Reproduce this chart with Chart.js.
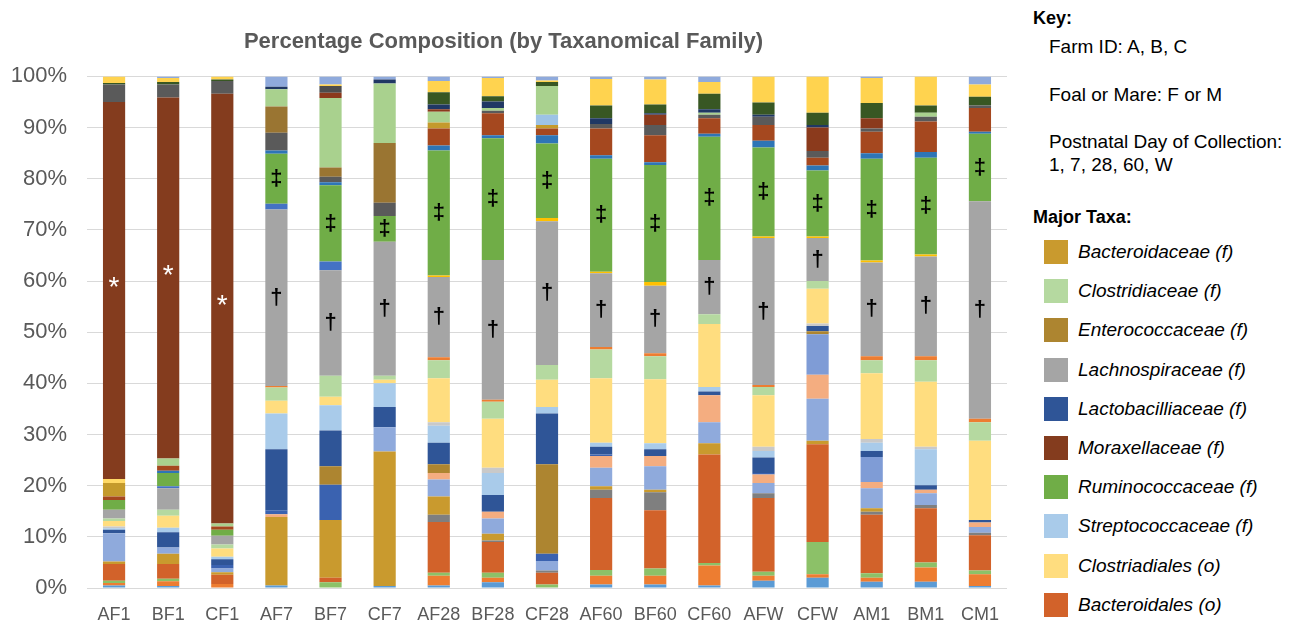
<!DOCTYPE html>
<html>
<head>
<meta charset="utf-8">
<title>Percentage Composition (by Taxanomical Family)</title>
<script src="https://cdn.jsdelivr.net/npm/chart.js@4.4.0/dist/chart.umd.min.js"></script>
<style>
    body { margin: 0; background: #fff; font-family: 'Liberation Sans', Arial, sans-serif; }
    #wrap { position: relative; width: 1308px; height: 624px; overflow: hidden; }
    #chartBox { position: absolute; left: 0; top: 0; width: 1016px; height: 624px; }
    .key { position: absolute; color: #000; white-space: nowrap; line-height: 24px; font-size: 19px; }
    .key.head { font-weight: bold; font-size: 18px; left: 1033px; }
    .key.item { left: 1049px; }
    .taxon { position: absolute; left: 1044px; height: 24px; width: 262px; }
    .taxon .sw { position: absolute; left: 0; top: 0; width: 24px; height: 24px; }
    .taxon .tx { position: absolute; left: 34px; top: 0; line-height: 24px; font-size: 19px; font-style: italic; color: #000; white-space: nowrap; }
</style>
</head>
<body>
<div id="wrap">
    <div id="chartBox"><canvas id="myChart"></canvas></div>
    <div class="key head" style="top:6px">Key:</div>
    <div class="key item" style="top:35px">Farm ID: A, B, C</div>
    <div class="key item" style="top:83px">Foal or Mare: F or M</div>
    <div class="key item" style="top:130px">Postnatal Day of Collection:</div>
    <div class="key item" style="top:153px">1, 7, 28, 60, W</div>
    <div class="key head" style="top:205px">Major Taxa:</div>
    <div id="taxaKey"></div>
</div>
<script>
var labels = ['AF1', 'BF1', 'CF1', 'AF7', 'BF7', 'CF7', 'AF28', 'BF28', 'CF28', 'AF60', 'BF60', 'CF60', 'AFW', 'CFW', 'AM1', 'BM1', 'CM1'];
var yTicks = [0, 10, 20, 30, 40, 50, 60, 70, 80, 90, 100];

// percentages per sample, stacked bottom -> top
var other01 = [0.5, 0.4, 0, 0.5, 0, 0.4, 0.5, 1.1, 0, 0.7, 0.7, 0.5, 1.4, 2.0, 1.2, 1.2, 0.4];
var other02 = [0.5, 0.9, 0.8, 0, 0, 0, 1.9, 0.9, 0, 1.7, 1.7, 3.9, 1.0, 0.7, 0.8, 2.8, 2.3];
var other03 = [0.4, 0.5, 0, 0, 1.1, 0, 0.6, 1.0, 0.7, 1.1, 1.4, 0.5, 0.8, 6.3, 0.9, 1.0, 0.7];
var bacteroidales = [3.3, 2.9, 1.8, 0, 0.9, 0, 9.9, 6.0, 2.3, 14.1, 11.4, 21.2, 14.4, 19.1, 11.4, 10.6, 6.9];
var other04 = [0, 0, 0, 0, 0, 0, 1.4, 0.3, 0.4, 1.6, 3.5, 0, 0.9, 0, 0.6, 0.6, 0.5];
var bacteroidaceae = [0.5, 2.0, 0.5, 13.4, 11.3, 26.3, 3.6, 1.3, 0, 0.7, 0.5, 2.2, 0, 0.7, 0.7, 0, 0];
var other05 = [5.5, 1.2, 0.7, 0, 0, 4.7, 3.3, 3.0, 1.9, 3.6, 4.6, 4.1, 2.0, 8.2, 3.9, 2.3, 1.1];
var other06 = [0, 0, 0, 0.5, 0, 0, 1.3, 1.3, 0, 2.3, 2.0, 5.3, 1.7, 4.7, 1.2, 0.7, 0.9];
var other07 = [0, 0, 0, 0, 0, 0, 0, 0, 0, 0, 0, 0, 0, 7.9, 4.9, 0, 0];
var other08 = [0, 0, 0.7, 0.8, 6.9, 0, 0, 0, 1.4, 0.3, 0, 0, 0.3, 0, 0, 0, 0];
var enterococcaceae = [0, 0, 0, 0, 3.6, 0, 1.7, 0, 17.5, 0, 0, 0, 0, 0.6, 0, 0, 0];
var lactobacilliaceae = [0.7, 3.0, 1.1, 11.9, 7.0, 4.0, 4.2, 3.3, 9.9, 1.5, 1.3, 0.7, 3.0, 1.0, 1.2, 0.9, 0.5];
var streptococcaceae = [0.3, 0.9, 0.5, 7.0, 4.9, 4.6, 3.3, 4.3, 1.3, 0.8, 1.2, 0.9, 1.3, 0, 1.6, 7.0, 0];
var other09 = [0.3, 0, 0, 0, 0, 0, 0.7, 1.0, 0, 0, 0, 0, 0.8, 0.5, 0.7, 0.5, 0];
var clostriadiales = [1.1, 2.3, 1.6, 2.5, 1.7, 0.7, 8.6, 9.6, 5.3, 12.6, 12.5, 12.3, 10.1, 6.8, 12.9, 12.7, 15.5];
var clostridiaceae = [0.5, 1.2, 0.8, 2.6, 4.1, 0.8, 3.5, 3.3, 2.9, 5.6, 4.5, 1.9, 1.6, 1.5, 2.5, 4.2, 3.6];
var other10 = [0, 0, 0, 0.3, 0, 0, 0.6, 0.4, 0, 0.5, 0.6, 0, 0.4, 0, 0.8, 0.8, 0.7];
var lachnospiraceae = [1.7, 4.2, 1.7, 34.5, 20.6, 26.2, 15.7, 27.3, 28.1, 14.4, 13.2, 10.6, 28.7, 8.4, 18.3, 19.5, 42.5];
var other11 = [0, 0, 0, 0, 0, 0, 0.3, 0, 0.6, 0.3, 0.7, 0, 0.3, 0.3, 0.4, 0.4, 0];
var other12 = [0, 0.4, 0, 1.1, 1.7, 0, 0, 0, 0, 0, 0, 0, 0, 0, 0, 0, 0];
var ruminococcaceae = [1.9, 2.6, 1.2, 9.8, 14.9, 5.0, 24.4, 23.8, 14.6, 22.1, 22.9, 24.1, 17.4, 12.9, 19.9, 18.9, 13.2];
var other13 = [0, 0.4, 0, 0.6, 0.6, 0, 1.0, 0.6, 1.6, 0.7, 0.5, 0.6, 1.3, 1.0, 1.1, 1.1, 0.4];
var other14 = [0.7, 1.0, 0.6, 0, 0, 0, 3.3, 4.3, 1.3, 5.2, 5.3, 3.0, 3.1, 1.5, 4.2, 6.0, 4.6];
var other15 = [2.6, 0, 0, 0, 0, 0, 1.2, 0, 0.7, 0, 0, 0, 0, 0, 0, 0, 0];
var other16 = [0.8, 0, 0, 0, 0, 0, 0, 0, 0, 0, 0, 0, 0, 0, 0, 0, 0];
var other17 = [0, 0, 0, 0, 0, 0, 0, 0, 2.0, 0, 0, 0, 0, 0, 0, 0, 0];
var other18 = [0, 1.4, 0.6, 0, 0, 0, 0, 0, 0, 0, 0, 0, 0, 0, 0, 0, 0];
var moraxellaceae = [73.7, 70.6, 84.0, 0, 0, 0, 0, 0, 0, 0, 0, 0, 0, 0, 0, 0, 0];
var other19 = [3.4, 2.5, 2.5, 3.5, 1.1, 2.6, 0, 0.5, 0, 0.9, 2.0, 0.7, 1.6, 1.3, 0.6, 0.9, 0.5];
var other20 = [0, 0, 0, 5.1, 1.8, 11.7, 0, 0, 0, 0, 0, 0, 0, 0, 0, 0, 0];
var other21 = [0, 0, 0, 3.4, 13.6, 11.6, 2.1, 0.5, 5.6, 0, 0, 0.4, 0, 0, 0, 0.8, 0];
var other22 = [0, 0, 0, 0, 1.0, 0, 0.5, 0, 0, 0, 2.0, 0, 0, 4.6, 2.0, 0, 0];
var other23 = [0, 0, 0, 0, 1.3, 0, 0, 0, 0, 0, 0, 0, 0, 0, 0, 0, 0];
var other24 = [0, 0, 0, 0.5, 0, 0.8, 0.9, 1.3, 0, 1.1, 0.3, 0.7, 0.4, 0.5, 0, 0, 0];
var other25 = [0.3, 0.5, 0.3, 0, 0, 0, 2.4, 1.0, 0.8, 2.5, 1.7, 3.0, 2.4, 2.4, 3.0, 1.4, 1.7];
var other26 = [1.3, 0.8, 0.6, 0, 0.3, 0, 2.2, 3.6, 0.3, 5.2, 4.9, 2.3, 5.1, 7.1, 4.9, 5.7, 2.4];
var other27 = [0, 0.3, 0, 2.0, 1.6, 0.6, 0.9, 0.3, 0.8, 0.5, 0.6, 1.1, 0, 0, 0.3, 0, 1.6];

// significance marks drawn on segments
var moraxMarks = ['*', '*', '*', '', '', '', '', '', '', '', '', '', '', '', '', '', ''];
var lachnoMarks = ['', '', '', '†', '†', '†', '†', '†', '†', '†', '†', '†', '†', '†', '†', '†', '†'];
var rumiMarks = ['', '', '', '‡', '‡', '‡', '‡', '‡', '‡', '‡', '‡', '‡', '‡', '‡', '‡', '‡', '‡'];

var series = [
    ['Other taxon 1', other01, '#5B9BD5'],
    ['Other taxon 2', other02, '#ED7D31'],
    ['Other taxon 3', other03, '#8CC168'],
    ['Bacteroidales (o)', bacteroidales, '#D2622A'],
    ['Other taxon 4', other04, '#7F7F7F'],
    ['Bacteroidaceae (f)', bacteroidaceae, '#C99A2E'],
    ['Other taxon 5', other05, '#8FAADC'],
    ['Other taxon 6', other06, '#F4AD80'],
    ['Other taxon 7', other07, '#7F9CD6'],
    ['Other taxon 8', other08, '#3A62B0'],
    ['Enterococcaceae (f)', enterococcaceae, '#AD8530'],
    ['Lactobacilliaceae (f)', lactobacilliaceae, '#2F5597'],
    ['Streptococcaceae (f)', streptococcaceae, '#A9CBEA'],
    ['Other taxon 9', other09, '#C9C9C9'],
    ['Clostriadiales (o)', clostriadiales, '#FFDD7F'],
    ['Clostridiaceae (f)', clostridiaceae, '#B5D9A0'],
    ['Other taxon 10', other10, '#ED7D31'],
    ['Lachnospiraceae (f)', lachnospiraceae, '#A5A5A5'],
    ['Other taxon 11', other11, '#FFC000'],
    ['Other taxon 12', other12, '#4472C4'],
    ['Ruminococcaceae (f)', ruminococcaceae, '#70AD47'],
    ['Other taxon 13', other13, '#2E75B6'],
    ['Other taxon 14', other14, '#A5481F'],
    ['Other taxon 15', other15, '#C49A2C'],
    ['Other taxon 16', other16, '#FFD966'],
    ['Other taxon 17', other17, '#9DC3E6'],
    ['Other taxon 18', other18, '#A9D18E'],
    ['Moraxellaceae (f)', moraxellaceae, '#843C1E'],
    ['Other taxon 19', other19, '#5A5A5A'],
    ['Other taxon 20', other20, '#9A7532'],
    ['Other taxon 21', other21, '#A9D18E'],
    ['Other taxon 22', other22, '#8B3A1C'],
    ['Other taxon 23', other23, '#4D4D4D'],
    ['Other taxon 24', other24, '#203864'],
    ['Other taxon 25', other25, '#385723'],
    ['Other taxon 26', other26, '#FFD34F'],
    ['Other taxon 27', other27, '#8FAADC']
];

var majorTaxa = ['Bacteroidaceae (f)', 'Clostridiaceae (f)', 'Enterococcaceae (f)', 'Lachnospiraceae (f)',
    'Lactobacilliaceae (f)', 'Moraxellaceae (f)', 'Ruminococcaceae (f)', 'Streptococcaceae (f)',
    'Clostriadiales (o)', 'Bacteroidales (o)'];

var fontFamily = "'Liberation Sans', Arial, sans-serif";

var datasets = series.map(function (s) {
    var ds = {
        label: s[0],
        data: s[1],
        backgroundColor: s[2],
        borderWidth: 0,
        barPercentage: 0.41,
        categoryPercentage: 1.0
    };
    if (s[1] === moraxellaceae) { ds.marks = moraxMarks; ds.markColor = '#fff'; ds.markSize = 28; ds.markWeight = 'normal'; ds.markShift = -2; }
    if (s[1] === lachnospiraceae) { ds.marks = lachnoMarks; ds.markColor = '#000'; ds.markSize = 22; ds.markWeight = 'bold'; ds.markShift = 0; }
    if (s[1] === ruminococcaceae) { ds.marks = rumiMarks; ds.markColor = '#000'; ds.markSize = 22; ds.markWeight = 'bold'; ds.markShift = 0; }
    return ds;
});

var markPlugin = {
    id: 'segmentMarks',
    afterDatasetsDraw: function (chart) {
        var ctx = chart.ctx;
        chart.data.datasets.forEach(function (ds, i) {
            if (!ds.marks) return;
            var meta = chart.getDatasetMeta(i);
            meta.data.forEach(function (bar, j) {
                var m = ds.marks[j];
                if (!m) return;
                ctx.save();
                ctx.fillStyle = ds.markColor;
                ctx.font = ds.markWeight + ' ' + ds.markSize + 'px ' + fontFamily;
                ctx.textAlign = 'center';
                ctx.textBaseline = 'middle';
                ctx.fillText(m, bar.x, (bar.y + bar.base) / 2 + ds.markShift);
                ctx.restore();
            });
        });
    }
};

var ctx = document.getElementById('myChart').getContext('2d');
var myChart = new Chart(ctx, {
    type: 'bar',
    data: {
        labels: labels,
        datasets: datasets
    },
    options: {
        responsive: true,
        maintainAspectRatio: false,
        animation: false,
        layout: { padding: { left: 0, right: 9, top: 0, bottom: 0 } },
        plugins: {
            legend: { display: false },
            tooltip: { enabled: false },
            title: {
                display: true,
                text: 'Percentage Composition (by Taxanomical Family)',
                color: '#595959',
                font: { family: fontFamily, size: 22, weight: 'bold' },
                padding: { top: 29, bottom: 21 }
            }
        },
        scales: {
            x: {
                stacked: true,
                grid: { display: false },
                border: { display: false },
                ticks: { color: '#595959', font: { family: fontFamily, size: 18 }, padding: 8 },
                afterFit: function (scale) { scale.height = 36; }
            },
            y: {
                stacked: true,
                min: 0,
                max: 100,
                afterBuildTicks: function (scale) {
                    scale.ticks = yTicks.map(function (v) { return { value: v }; });
                },
                grid: { color: '#D9D9D9', lineWidth: 1, drawTicks: false },
                border: { display: false },
                ticks: {
                    color: '#595959',
                    font: { family: fontFamily, size: 22 },
                    padding: 20,
                    callback: function (value) { return value + '%'; }
                },
                afterFit: function (scale) { scale.width = 87; }
            }
        }
    },
    plugins: [markPlugin]
});

// taxa key on the right
var colorOf = {};
series.forEach(function (s) { colorOf[s[0]] = s[2]; });
var keyBox = document.getElementById('taxaKey');
majorTaxa.forEach(function (name, i) {
    var row = document.createElement('div');
    row.className = 'taxon';
    row.style.top = (240 + i * 39.2) + 'px';
    row.innerHTML = '<span class="sw" style="background:' + colorOf[name] + '"></span><span class="tx">' + name + '</span>';
    keyBox.appendChild(row);
});
</script>
</body>
</html>
